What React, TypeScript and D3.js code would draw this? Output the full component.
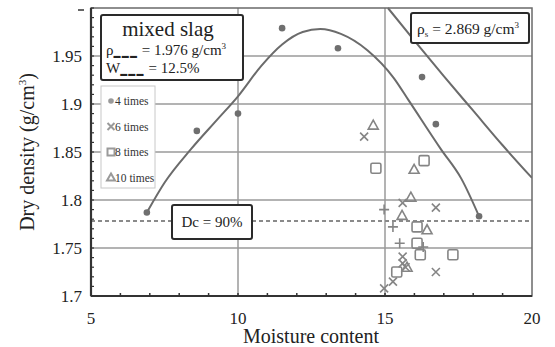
import React, { useEffect } from "react";
import * as d3 from "d3";

// fitted compaction curve (moisture %, dry density)
const fitW = [6.9, 7.5, 8.4, 9.3, 10.0, 10.8, 11.5, 12.2, 12.8, 13.5, 14.4, 15.3, 15.8, 16.9, 17.6, 18.2];
const fitRho = [1.787, 1.818, 1.853, 1.884, 1.908, 1.94, 1.962, 1.975, 1.978, 1.973, 1.956, 1.927, 1.904, 1.853, 1.822, 1.783];

// saturation line
const zavW = [15.1, 16.0, 17.0, 18.0, 19.0, 20.0];
const zavRho = [2.0, 1.966, 1.929, 1.893, 1.857, 1.823];

// measured points
const times4: [number, number][] = [
  [6.9, 1.787], [8.6, 1.872], [10.0, 1.89], [11.5, 1.979], [13.4, 1.958],
  [16.26, 1.928], [16.73, 1.879], [18.2, 1.783],
];
const times6: [number, number][] = [
  [14.29, 1.866], [15.6, 1.797], [16.73, 1.792], [15.6, 1.741], [15.6, 1.734],
  [16.73, 1.725], [15.27, 1.715], [14.97, 1.708], [15.7, 1.73],
];
const times8: [number, number][] = [
  [14.69, 1.833], [16.33, 1.841], [16.09, 1.772], [16.09, 1.755], [16.2, 1.743],
  [17.31, 1.743], [15.4, 1.725],
];
const times10: [number, number][] = [
  [14.6, 1.878], [15.99, 1.832], [15.88, 1.803], [15.58, 1.784], [16.43, 1.769], [15.75, 1.73],
];
const plusPts: [number, number][] = [
  [14.97, 1.79], [15.27, 1.772], [15.5, 1.755], [16.3, 1.751],
];

const xTicks = [5, 10, 15, 20];
const yTicks = [1.7, 1.75, 1.8, 1.85, 1.9, 1.95];
const dcValue = 1.778;
const legendLabels = ["4 times", "6 times", "8 times", "10 times"];

const FONT = '"Liberation Serif", "Times New Roman", serif';
const MARK = "#858585";

export default function App() {
  useEffect(() => {
    document.body.style.margin = "0";
  }, []);

  const x = d3.scaleLinear().domain([5, 20]).range([91, 532]);
  const y = d3.scaleLinear().domain([1.7, 2.0]).range([296, 8]);

  const fitLine = d3
    .line<number>()
    .x((d, i) => x(fitW[i]))
    .y((d) => y(d))
    .curve(d3.curveMonotoneX)(fitRho);
  const zavLine = d3
    .line<number>()
    .x((d, i) => x(zavW[i]))
    .y((d) => y(d))
    .curve(d3.curveMonotoneX)(zavRho);

  const minorX = d3.range(6, 20, 1);
  const minorY = d3.range(1.71, 2.0, 0.01);

  const cross = (cx: number, cy: number, s: number, key: string) => (
    <path key={key} d={`M${cx - s},${cy - s}L${cx + s},${cy + s}M${cx - s},${cy + s}L${cx + s},${cy - s}`} stroke={MARK} strokeWidth={1.6} fill="none" />
  );
  const plus = (cx: number, cy: number, s: number, key: string) => (
    <path key={key} d={`M${cx - s},${cy}L${cx + s},${cy}M${cx},${cy - s}L${cx},${cy + s}`} stroke={MARK} strokeWidth={1.6} fill="none" />
  );
  const square = (cx: number, cy: number, s: number, key: string) => (
    <rect key={key} x={cx - s} y={cy - s} width={2 * s} height={2 * s} rx={1.5} stroke={MARK} strokeWidth={1.6} fill="none" />
  );
  const tri = (cx: number, cy: number, s: number, key: string) => (
    <path key={key} d={`M${cx},${cy - s}L${cx + s},${cy + s * 0.8}L${cx - s},${cy + s * 0.8}Z`} stroke={MARK} strokeWidth={1.6} fill="none" />
  );

  return (
    <svg width={555} height={347} style={{ display: "block", background: "white", fontFamily: FONT }}>
      <defs>
        <clipPath id="plot">
          <rect x={91} y={0} width={441} height={296} />
        </clipPath>
      </defs>

      {/* grid */}
      {yTicks.slice(1).map((t) => (
        <line key={"gy" + t} x1={91} x2={532} y1={y(t)} y2={y(t)} stroke="#9a9a9a" strokeWidth={1.5} />
      ))}
      {[10, 15].map((t) => (
        <line key={"gx" + t} x1={x(t)} x2={x(t)} y1={8} y2={296} stroke="#9a9a9a" strokeWidth={1.5} />
      ))}
      <line x1={91} x2={532} y1={y(dcValue)} y2={y(dcValue)} stroke="#8a8a8a" strokeWidth={2} strokeDasharray="4,3" />

      {/* frame */}
      <rect x={91} y={8} width={441} height={288} fill="none" stroke="#6a6a6a" strokeWidth={1.5} />
      <line x1={91} x2={91} y1={8} y2={296} stroke="#333" strokeWidth={2.2} />
      <line x1={91} x2={532} y1={296} y2={296} stroke="#333" strokeWidth={2.2} />
      {minorX.map((t) => (
        <line key={"mx" + t} x1={x(t)} x2={x(t)} y1={296} y2={293} stroke="#333" strokeWidth={1.5} />
      ))}
      {minorY.map((t) => (
        <line key={"my" + t} x1={91} x2={94} y1={y(t)} y2={y(t)} stroke="#333" strokeWidth={1.2} />
      ))}
      {/* clipped top tick label */}
      <line x1={78} x2={84} y1={y(2.0) + 2} y2={y(2.0) + 2} stroke="#333" strokeWidth={1.5} />

      {/* curves */}
      <g clipPath="url(#plot)">
        <path d={fitLine ?? ""} fill="none" stroke="#6b6b6b" strokeWidth={2} />
        <path d={zavLine ?? ""} fill="none" stroke="#6b6b6b" strokeWidth={2} />
      </g>

      {/* points */}
      {times4.map(([a, b], i) => (
        <circle key={"d" + i} cx={x(a)} cy={y(b)} r={3.3} fill="#6f6f6f" />
      ))}
      {times6.map(([a, b], i) => cross(x(a), y(b), 4, "c" + i))}
      {times8.map(([a, b], i) => square(x(a), y(b), 5, "s" + i))}
      {times10.map(([a, b], i) => tri(x(a), y(b), 5, "t" + i))}
      {plusPts.map(([a, b], i) => plus(x(a), y(b), 5, "p" + i))}

      {/* info box */}
      <rect x={101} y={15} width={142} height={65} rx={2} fill="white" stroke="#2a2a2a" strokeWidth={2} />
      <text x={168} y={36} textAnchor="middle" fontSize={21} fill="#222">mixed slag</text>
      <text x={106} y={55} fontSize={15} fill="#222">
        ρ<tspan fontSize={7} dy={3} letterSpacing={1.2}>▬▬▬</tspan>
        <tspan dy={-3}> = 1.976 g/cm</tspan>
        <tspan fontSize={9} dy={-6}>3</tspan>
      </text>
      <text x={106} y={73} fontSize={15} fill="#222">
        W<tspan fontSize={7} dy={3} letterSpacing={1.2}>▬▬▬</tspan>
        <tspan dy={-3}> = 12.5%</tspan>
      </text>

      {/* legend */}
      <rect x={101} y={86} width={54} height={102} fill="white" stroke="#c8c8c8" strokeWidth={1} />
      {legendLabels.map((lab, i) => {
        const ly = 101 + i * 25.5;
        const mx = 111;
        let m;
        if (i === 0) m = <circle cx={mx} cy={ly} r={2.8} fill="#9a9a9a" />;
        else if (i === 1) m = <path d={`M${mx - 3.5},${ly - 3.5}L${mx + 3.5},${ly + 3.5}M${mx - 3.5},${ly + 3.5}L${mx + 3.5},${ly - 3.5}`} stroke="#9a9a9a" strokeWidth={2} />;
        else if (i === 2) m = <rect x={mx - 3.5} y={ly - 3.5} width={7} height={7} fill="none" stroke="#9a9a9a" strokeWidth={2} />;
        else m = <path d={`M${mx},${ly - 4}L${mx + 4},${ly + 3}L${mx - 4},${ly + 3}Z`} fill="none" stroke="#9a9a9a" strokeWidth={2} />;
        return (
          <g key={lab}>
            {m}
            <text x={115} y={ly + 4} fontSize={11.5} fill="#333">{lab}</text>
          </g>
        );
      })}

      {/* ρs box */}
      <rect x={411} y={13} width={118} height={30} rx={2} fill="white" stroke="#2a2a2a" strokeWidth={2} />
      <text x={417} y={34} fontSize={15.5} fill="#222">
        ρ<tspan fontSize={9} dy={3}>s</tspan>
        <tspan dy={-3}> = 2.869 g/cm</tspan>
        <tspan fontSize={9} dy={-6}>3</tspan>
      </text>

      {/* Dc box */}
      <rect x={172} y={205} width={80} height={34} rx={2} fill="white" stroke="#2a2a2a" strokeWidth={2} />
      <text x={212} y={227} textAnchor="middle" fontSize={15} fill="#222">Dc = 90%</text>

      {/* axis labels */}
      {yTicks.map((t) => (
        <text key={"yl" + t} x={82} y={y(t) + 6} textAnchor="end" fontSize={17} fill="#222">
          {d3.format("~g")(t)}
        </text>
      ))}
      {xTicks.map((t) => (
        <text key={"xl" + t} x={x(t)} y={324} textAnchor="middle" fontSize={17} fill="#222">{t}</text>
      ))}
      <text x={311} y={343} textAnchor="middle" fontSize={20} fill="#222">Moisture content</text>
      <text transform="translate(34,152) rotate(-90)" textAnchor="middle" fontSize={20} fill="#222">
        Dry density (g/cm<tspan fontSize={11} dy={-8}>3</tspan><tspan dy={8}>)</tspan>
      </text>
    </svg>
  );
}
